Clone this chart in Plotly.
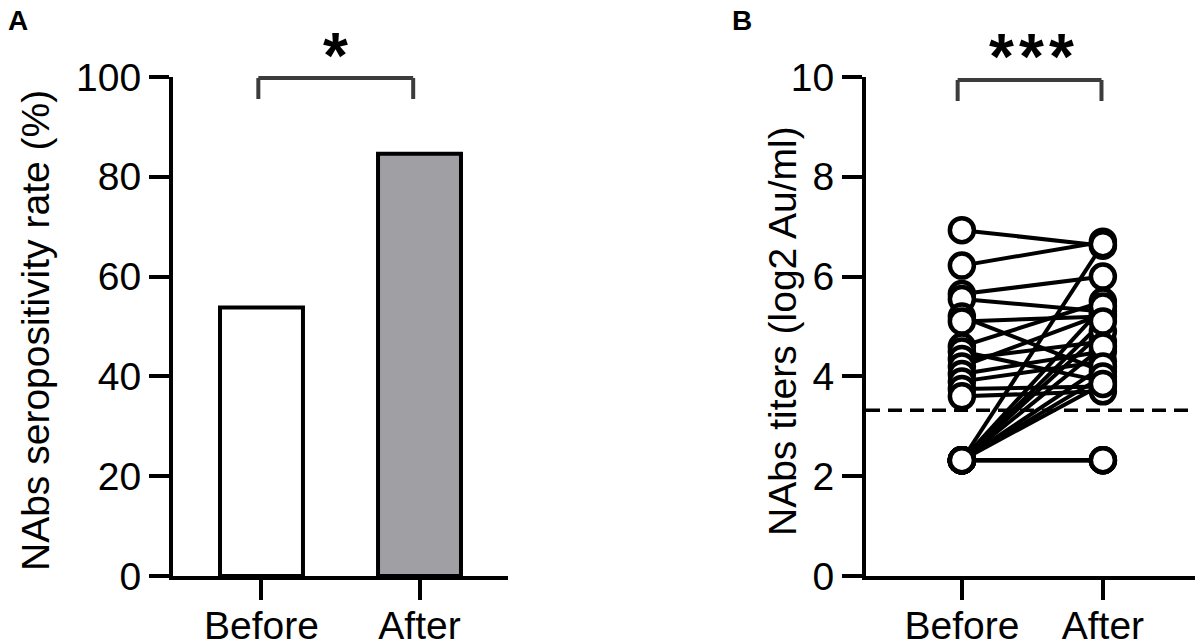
import plotly.graph_objects as go

# Panel A: seropositivity rate
groups = ["Before", "After"]
seropositivity = [53.8, 84.6]
bar_fill = ["#FFFFFF", "#A0A0A4"]

# Panel B: paired NAbs titers (log2 Au/ml), one entry per subject
titers_before = [6.93, 6.22, 5.65, 5.55, 5.20, 5.10, 4.60, 4.50, 4.35, 4.20, 4.05, 3.90, 3.75, 3.60,
                 2.32, 2.32, 2.32, 2.32, 2.32, 2.32, 2.32, 2.32, 2.32, 2.32, 2.32, 2.32]
titers_after = [6.62, 6.70, 6.00, 5.30, 4.10, 5.20, 5.50, 3.90, 4.70, 5.25, 4.50, 4.30, 3.80, 3.70,
                2.32, 2.32, 2.32, 2.32, 6.65, 5.40, 4.90, 4.60, 4.20, 4.00, 3.85, 5.10]
cutoff = 3.32

FONT = "Liberation Sans, Arial, sans-serif"
W, H = 1203, 642
OFF = 8  # page body margin

fig = go.Figure()

fig.add_trace(go.Bar(
    x=groups, y=seropositivity, width=0.525,
    marker=dict(color=bar_fill, line=dict(color="black", width=4)),
    xaxis="x", yaxis="y", showlegend=False,
))

# paired lines first, circles on top
lx, ly = [], []
for b, a in zip(titers_before, titers_after):
    lx += [groups[0], groups[1], None]
    ly += [b, a, None]
fig.add_trace(go.Scatter(
    x=lx, y=ly, mode="lines", line=dict(color="black", width=4),
    xaxis="x2", yaxis="y2", showlegend=False, cliponaxis=False,
))
fig.add_trace(go.Scatter(
    x=[groups[0]] * len(titers_before) + [groups[1]] * len(titers_after),
    y=titers_before + titers_after, mode="markers",
    marker=dict(size=24, color="white", line=dict(color="black", width=4.5)),
    xaxis="x2", yaxis="y2", showlegend=False, cliponaxis=False,
))

def px_x(p):
    return (p - OFF) / W

def px_y(p):
    return (H - (p - OFF)) / H

axis_common = dict(
    showline=True, linecolor="black", linewidth=4, ticks="outside", ticklen=20,
    tickwidth=4, tickcolor="black", showgrid=False, zeroline=False,
    tickfont=dict(family=FONT, size=39, color="black"), automargin=False,
)
x_extra = dict(ticklabelstandoff=-8)

fig.update_layout(
    width=W, height=H, margin=dict(l=0, r=0, t=0, b=0),
    plot_bgcolor="white", paper_bgcolor="white",
    xaxis=dict(domain=[px_x(173), px_x(508)], anchor="y", type="category",
               range=[-0.56, 1.56], **axis_common, **x_extra),
    yaxis=dict(domain=[px_y(576), px_y(77)], anchor="x", range=[0, 100], dtick=20,
               **axis_common),
    xaxis2=dict(domain=[px_x(866), px_x(1203)], anchor="y2", type="category",
                range=[-0.68, 1.71], **axis_common, **x_extra),
    yaxis2=dict(domain=[px_y(576), px_y(77)], anchor="x2", range=[0, 10], dtick=2,
                **axis_common),
)

# dashed positivity cutoff
fig.add_shape(type="line", xref="x2 domain", yref="y2", x0=0, x1=1, y0=cutoff, y1=cutoff,
              line=dict(color="black", width=3.5, dash="14px,8px"), layer="below")

# significance brackets
def bracket(xref, x0, x1, top, bottom):
    for sx0, sx1, sy0, sy1 in [(x0, x0, bottom, top), (x0, x1, top, top), (x1, x1, top, bottom)]:
        fig.add_shape(type="line", xref=xref, yref="paper", x0=sx0, x1=sx1,
                      y0=px_y(sy0), y1=px_y(sy1), line=dict(color="#3c3c3c", width=4))

bracket("x", -0.02, 0.96, 78, 99)
bracket("x2", -0.03, 0.99, 80, 101)

annotations = [
    dict(text="*", x=335, y=56, size=64),
    dict(text="*", x=1001, y=57, size=64),
    dict(text="*", x=1031, y=57, size=64),
    dict(text="*", x=1061, y=57, size=64),
    dict(text="A", x=18, y=21, size=28),
    dict(text="B", x=742, y=21, size=28),
]
for a in annotations:
    fig.add_annotation(xref="paper", yref="paper", showarrow=False,
                       xanchor="center", yanchor="middle", text="<b>%s</b>" % a["text"],
                       x=px_x(a["x"]), y=px_y(a["y"]),
                       font=dict(family=FONT, size=a["size"], color="black"))

fig.add_annotation(xref="paper", yref="paper", showarrow=False, textangle=-90,
                   text="NAbs seropositivity rate (%)", x=px_x(35), y=px_y(331),
                   xanchor="center", yanchor="middle",
                   font=dict(family=FONT, size=39, color="black"))
fig.add_annotation(xref="paper", yref="paper", showarrow=False, textangle=-90,
                   text="NAbs titers (log2 Au/ml)", x=px_x(782), y=px_y(331),
                   xanchor="center", yanchor="middle",
                   font=dict(family=FONT, size=39, color="black"))

fig.write_html("out.html")
